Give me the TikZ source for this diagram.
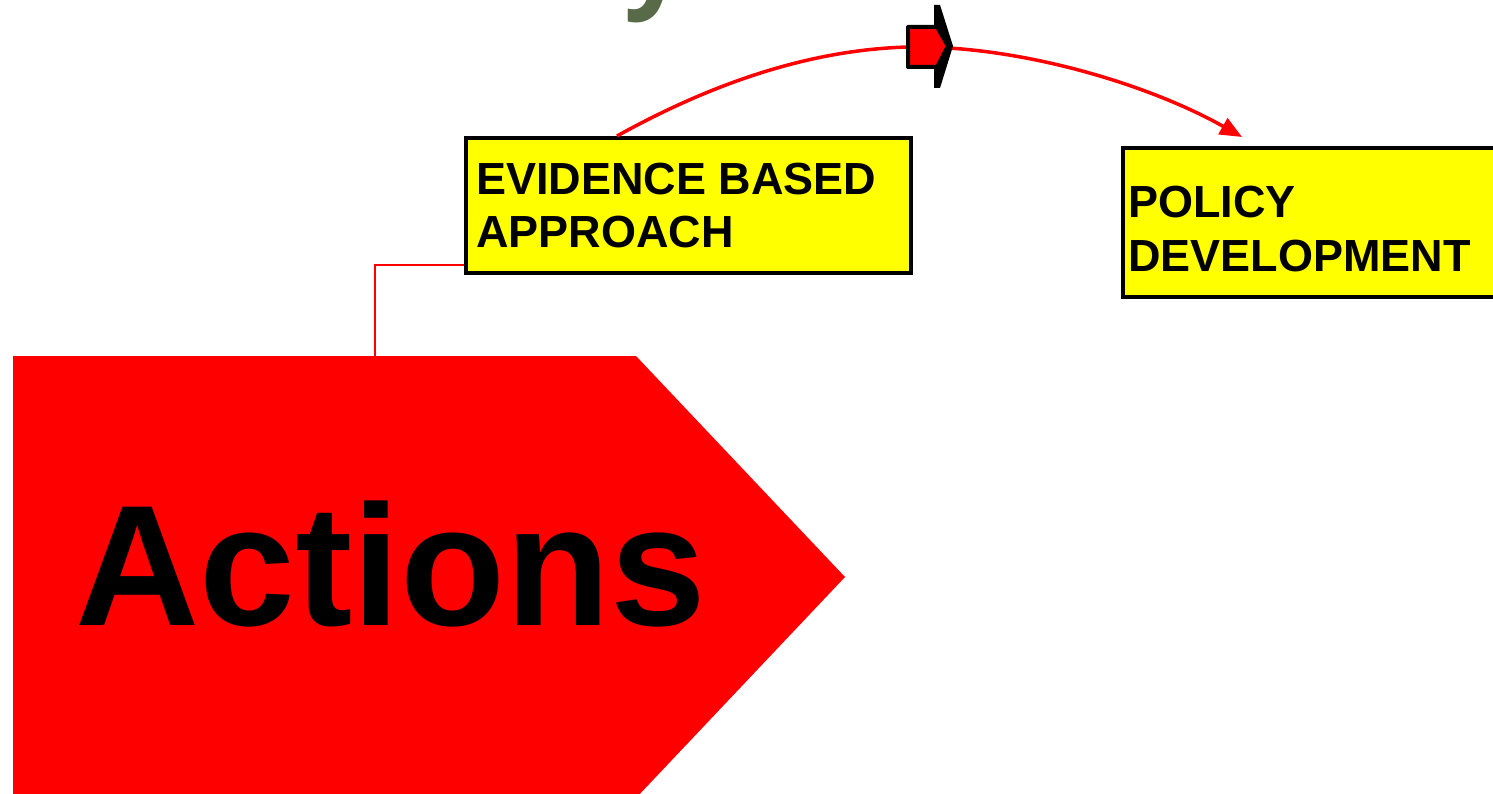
\documentclass[tikz,border=0pt]{standalone}
\usepackage{fontspec}
\setmainfont{Liberation Sans}
\newfontfamily\titlefont{Open Sans}
\usetikzlibrary{calc,arrows.meta}
\definecolor{alarmred}{RGB}{255,0,0}
\definecolor{notepad}{RGB}{255,255,0}
\definecolor{olive}{RGB}{89,106,72}
\tikzset{
  labelbox/.style={draw=black, line width=4pt, fill=notepad, rectangle,
    inner sep=0pt, anchor=north west},
  labeltext/.style={anchor=base west, inner sep=0pt, align=left,
    font=\fontsize{45}{54}\selectfont\bfseries},
  elbow/.style={draw=alarmred, line width=2pt},
  flow/.style={draw=alarmred, line width=3.5pt,
    -{Triangle[length=22pt,width=18pt]}},
}
\begin{document}
\begin{tikzpicture}[x=1pt,y=-1pt]
\useasboundingbox (0,0) rectangle (1493,794);
\clip (0,0) rectangle (1493,794);
\fill[white] (0,0) rectangle (1493,794);

% tail of the heading running off the top edge
\node[anchor=base west, inner sep=0pt, text=olive,
  font=\fontsize{110}{110}\selectfont\titlefont\bfseries] (head) at (624,-3) {y};

% red pointer panel
\fill[alarmred] (13,356) -- (636,356) -- (845,577) -- (636,798) -- (13,798) -- cycle;
\coordinate (acttop) at (375,356);
\node[anchor=base west, inner sep=0pt,
  font=\fontsize{172}{172}\selectfont\bfseries] (act) at (75,625) {Actions};

% label boxes (the base anchor of a two-line label sits on its last line)
\node[labelbox, minimum width=445pt, minimum height=135pt] (ev) at (464,136) {};
\node[labeltext] (evtext) at (476,248) {EVIDENCE BASED\\APPROACH};
\node[labelbox, minimum width=420pt, minimum height=149pt] (pol) at (1121,146) {};
\node[labeltext] (poltext) at (1128,272) {POLICY\\DEVELOPMENT};

% connectors
\draw[elbow] (acttop) |- ($(ev.south west)+(0,-10)$);
\coordinate (arcstart) at ($(ev.north west)+(153,0)$);
\coordinate (mk) at (908,47);
\coordinate (arcend) at ($(pol.north west)+(121,-9)$);
\draw[flow] (arcstart) .. controls (700,90) and (800,50) .. (mk)
  .. controls (1020,45) and (1150,85) .. (arcend);

% block arrow marker riding on the arc
\begin{scope}[shift={(mk)}]
  \fill[black, line join=round] (26,-42) -- (32,-42) -- (45,-1) -- (32,41) -- (26,41) -- cycle;
  \filldraw[fill=alarmred, draw=black, line width=4pt, line join=round]
    (0,-20) -- (29,-20) -- (40,-1) -- (29,20) -- (0,20) -- cycle;
\end{scope}
\end{tikzpicture}
\end{document}
